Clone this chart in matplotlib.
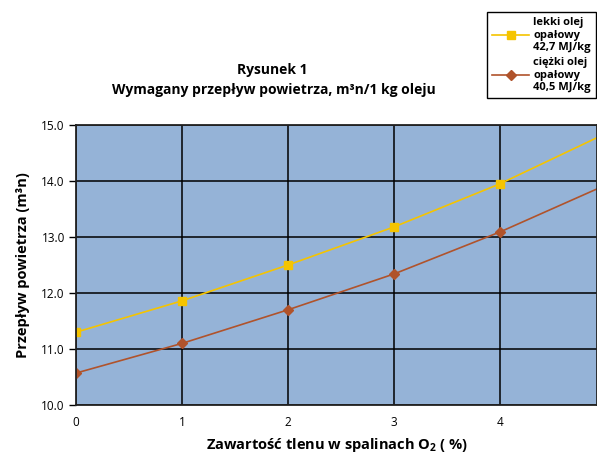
import matplotlib
matplotlib.use('Agg')
import matplotlib.pyplot as plt

plt.rcParams['font.family'] = ['Open Sans', 'DejaVu Sans']
plt.rcParams['mathtext.fontset'] = 'custom'
plt.rcParams['mathtext.rm'] = 'Open Sans:bold'
plt.rcParams['mathtext.bf'] = 'Open Sans:bold'

# oxygen content in flue gas (%)
o2 = [0, 1, 2, 3, 4, 5]
# required air flow, m3n per 1 kg of oil
light_oil = [11.3, 11.86, 12.5, 13.18, 13.95, 14.85]
heavy_oil = [10.57, 11.1, 11.7, 12.34, 13.09, 13.93]

labels = ['lekki olej\nopałowy\n42,7 MJ/kg', 'ciężki olej\nopałowy\n40,5 MJ/kg']
yticks = [10.0, 11.0, 12.0, 13.0, 14.0, 15.0]

fig = plt.figure(figsize=(5.97, 4.55), dpi=100)
ax = fig.add_axes([76 / 597, 50 / 455, 1 - 76 / 597, 280 / 455])
ax.set_facecolor('#95b3d7')

l1, = ax.plot(o2, light_oil, color='#f5c400', lw=1.2, marker='s', ms=5.5,
              markevery=[0, 1, 2, 3, 4], label=labels[0])
l2, = ax.plot(o2, heavy_oil, color='#b0532b', lw=1.2, marker='D', ms=5,
              markevery=[0, 1, 2, 3, 4], label=labels[1])

ax.set_xlim(0, 521 / 106)
ax.set_ylim(10, 15)
ax.set_xticks([0, 1, 2, 3, 4])
ax.set_yticks(yticks)
ax.set_yticklabels([f'{v:.1f}' for v in yticks])
ax.grid(True, color='black', lw=1.1)
ax.set_axisbelow(True)
for s in ax.spines.values():
    s.set_color('#222222')
    s.set_linewidth(1.3)
ax.tick_params(axis='y', length=5, width=1, labelsize=8.5, pad=3)
ax.tick_params(axis='x', length=0, labelsize=8.5, pad=8)

ax.set_xlabel('Zawartość tlenu w spalinach O$_2$ ( %)', fontsize=10.5,
              fontweight='bold', labelpad=5)
ax.set_ylabel('Przepływ powietrza (m³n)', fontsize=10.5, fontweight='bold',
              labelpad=8)

fig.text(272 / 597, 1 - 70 / 455, 'Rysunek 1', ha='center', va='center',
         fontsize=10, fontweight='bold')
fig.text(274 / 597, 1 - 90 / 455, 'Wymagany przepływ powietrza, m³n/1 kg oleju',
         ha='center', va='center', fontsize=10, fontweight='bold')

leg = fig.legend(handles=[l1, l2], loc='upper right',
                 bbox_to_anchor=(596 / 597, 1 - 12 / 455),
                 prop={'size': 8, 'weight': 'bold'}, frameon=True,
                 fancybox=False, framealpha=1, edgecolor='black',
                 handlelength=3.3, borderpad=0.45, labelspacing=0.35,
                 handletextpad=0.4, borderaxespad=0)
leg.get_frame().set_linewidth(1.0)
for t in leg.get_texts():
    t.set_multialignment('left')

fig.savefig('out.png', dpi=100)
